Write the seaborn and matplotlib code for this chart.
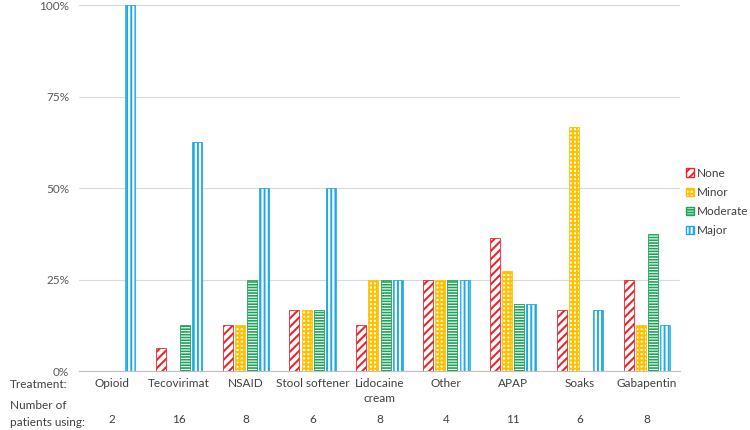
import matplotlib
matplotlib.use('Agg')
import matplotlib.pyplot as plt
import matplotlib.patches as mpatches
import pandas as pd
import seaborn as sns

# Data (share of patients per severity)
treatments = ['Opioid', 'Tecovirimat', 'NSAID', 'Stool softener', 'Lidocaine\ncream',
              'Other', 'APAP', 'Soaks', 'Gabapentin']
n_patients = [2, 16, 8, 6, 8, 4, 11, 6, 8]
severities = ['None', 'Minor', 'Moderate', 'Major']
none_pct = [0, 6.25, 12.5, 16.7, 12.5, 25, 36.4, 16.7, 25]
minor_pct = [0, 0, 12.5, 16.7, 25, 25, 27.3, 66.7, 12.5]
moderate_pct = [0, 12.5, 25, 16.7, 25, 25, 18.2, 0, 37.5]
major_pct = [100, 62.5, 50, 50, 25, 25, 18.2, 16.7, 12.5]

colors = ['#E8262D', '#FFC000', '#1FA35B', '#1FA8E6']
hatches = ['////', '++++', '------', '||||']
hatch_lw = [1.5, 1.5, 1.2, 1.4]

rows = []
for sev, vals in zip(severities, [none_pct, minor_pct, moderate_pct, major_pct]):
    for t, v in zip(treatments, vals):
        rows.append({'treatment': t, 'severity': sev, 'pct': v})
df = pd.DataFrame(rows)

sns.set_style('white')
plt.rcParams['font.family'] = ['Lato', 'DejaVu Sans']
plt.rcParams['hatch.linewidth'] = 1.4

fig = plt.figure(figsize=(7.5, 4.3), dpi=100)
ax = fig.add_axes([0.105, 0.137, 0.802, 0.851])

sns.barplot(data=df, x='treatment', y='pct', hue='severity', hue_order=severities,
            order=treatments, width=0.73, gap=0.18, ax=ax, legend=False)

# pattern fills like the original
for i, cont in enumerate(ax.containers):
    for bar in cont:
        bar.set_facecolor('white')
        bar.set_edgecolor(colors[i])
        bar.set_hatch(hatches[i])
        if hasattr(bar, 'set_hatch_linewidth'):
            bar.set_hatch_linewidth(hatch_lw[i])
        bar.set_linewidth(0.6 if bar.get_height() > 0 else 0)

ax.set_ylim(0, 100)
ax.set_xlim(-0.5, len(treatments) - 0.5)
ax.set_yticks([0, 25, 50, 75, 100])
ax.set_yticklabels(['0%', '25%', '50%', '75%', '100%'], color='#595959', fontsize=8.5)
ax.yaxis.grid(True, color='#D9D9D9', linewidth=0.8)
ax.set_axisbelow(True)
for s in ['left', 'right', 'top']:
    ax.spines[s].set_visible(False)
ax.spines['bottom'].set_color('#BFBFBF')
ax.tick_params(axis='both', length=0, pad=7)
ax.tick_params(axis='x', labelsize=8.5, labelcolor='#404040', pad=5)
for lbl in ax.get_xticklabels():
    lbl.set_linespacing(1.45)
ax.set_xlabel('')
ax.set_ylabel('')

for i, n in enumerate(n_patients):
    ax.text(i, -0.131, str(n), transform=ax.get_xaxis_transform(),
            ha='center', va='center', fontsize=8.5, color='#404040')

fig.text(10 / 750, 1 - 384 / 430, 'Treatment:', ha='left', va='center', fontsize=8.5, color='#404040')
fig.text(10 / 750, 1 - 414 / 430, 'Number of\npatients using:', ha='left', va='center',
         fontsize=8.5, color='#404040', linespacing=1.7)

handles = [mpatches.Patch(facecolor='white', edgecolor=c, hatch=h, label=s)
           for c, h, s in zip(colors, hatches, severities)]
ax.legend(handles=handles, loc='upper left', bbox_to_anchor=(0.914, 0.61),
          bbox_transform=fig.transFigure, frameon=False, fontsize=8.5,
          handlelength=0.7, handleheight=0.7, handletextpad=0.25, labelspacing=0.7,
          labelcolor='#404040', borderaxespad=0, borderpad=0)

fig.savefig('out.png', dpi=100)
